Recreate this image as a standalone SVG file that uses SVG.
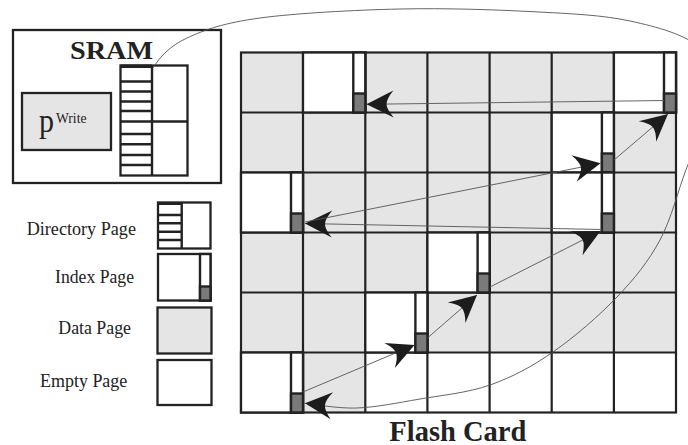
<svg xmlns="http://www.w3.org/2000/svg" width="688" height="445" viewBox="0 0 688 445">
<style>
.t{font-family:"Liberation Serif","Times New Roman",serif;fill:#222}
.b{font-weight:bold}
.ln{fill:none;stroke:#222;stroke-width:2.2}
.gf{fill:#e5e5e5}
.wf{fill:#fff}
.box{stroke:#222;stroke-width:2.3}
.strip{fill:#fff;stroke:#222;stroke-width:2.4}
.dk{fill:#7a7a7a;stroke:#222;stroke-width:2.4}
.bar{stroke:#222;stroke-width:2.4}
.con{fill:none;stroke:#555;stroke-width:0.9}
</style>
<defs>
<marker id="ah" viewBox="-32 -18 34 36" refX="0" refY="0" markerWidth="34" markerHeight="36" orient="auto" markerUnits="userSpaceOnUse" overflow="visible">
<path d="M0,0 L-27,-13.5 Q-20,-5 -20,0 Q-20,5 -27,13.5 Z" fill="#1c1c1c"/>
</marker>
</defs>
<rect width="688" height="445" fill="#fff"/>

<g id="sram">
<rect x="13" y="30" width="208" height="153" fill="#fff" class="box"/>
<text class="t b" x="70" y="59.3" font-size="25" textLength="83" lengthAdjust="spacingAndGlyphs">SRAM</text>
</g>
<g id="p-write">
<rect x="22" y="93" width="89" height="57" class="gf box"/>
<text class="t" x="39" y="132" font-size="34" textLength="15" lengthAdjust="spacingAndGlyphs">p</text>
<text class="t" x="56" y="123.3" font-size="15" textLength="30.5" lengthAdjust="spacingAndGlyphs">Write</text>
</g>
<g id="sram-directory">
<rect x="120.5" y="65.5" width="67" height="110" class="wf box"/>
<line x1="152" y1="65.5" x2="152" y2="175.5" class="bar"/>
<line x1="120.5" y1="121.5" x2="187.5" y2="121.5" class="bar" stroke-width="3"/>
<rect x="120.5" y="64.5" width="31.5" height="3.5" fill="#222"/>
<path d="M120.5,81.5H152M120.5,91.5H152M120.5,101.5H152M120.5,111H152M120.5,134H152M120.5,144.3H152M120.5,155H152M120.5,165H152" class="bar"/>
</g>

<g id="legend-directory">
<text class="t" x="26.7" y="235" font-size="18.5" textLength="109.3" lengthAdjust="spacingAndGlyphs">Directory Page</text>
<rect x="158" y="202.5" width="52.5" height="46" class="wf box"/>
<rect x="158" y="202" width="23.7" height="3" fill="#222"/>
<line x1="181.7" y1="202.5" x2="181.7" y2="248.5" class="bar"/>
<path d="M158,215H181.7M158,223.3H181.7M158,231.7H181.7M158,240H181.7" class="bar"/>
</g>
<g id="legend-index">
<text class="t" x="55" y="282.7" font-size="18.5" textLength="79" lengthAdjust="spacingAndGlyphs">Index Page</text>
<rect x="158" y="254" width="52.5" height="46.5" class="wf box"/>
<rect x="200" y="254" width="10.5" height="46.5" class="strip"/>
<rect x="200" y="286.5" width="10.5" height="14" class="dk"/>
</g>
<g id="legend-data">
<text class="t" x="58.3" y="334" font-size="18.5" textLength="72.7" lengthAdjust="spacingAndGlyphs">Data Page</text>
<rect x="157.5" y="307.5" width="54" height="46" class="gf box"/>
</g>
<g id="legend-empty">
<text class="t" x="40" y="386.7" font-size="18.5" textLength="87.3" lengthAdjust="spacingAndGlyphs">Empty Page</text>
<rect x="157.5" y="360" width="54" height="45" class="wf box"/>
</g>

<g id="flash-card">
<rect x="241" y="52.5" width="435" height="360" class="gf"/>
<rect x="365.3" y="352.5" width="310.7" height="60" class="wf"/>
<path d="M303,52.5V412.5M365.3,52.5V412.5M427.4,52.5V412.5M489.6,52.5V412.5M551.7,52.5V412.5M613.9,52.5V412.5M241,112.5H676M241,172.5H676M241,232.5H676M241,292.5H676M241,352.5H676" class="ln"/>
<rect x="241" y="52.5" width="435" height="360" class="ln" stroke-width="2.6"/>
<text class="t b" x="389.3" y="440.5" font-size="29.5" textLength="137" lengthAdjust="spacingAndGlyphs">Flash Card</text>
</g>

<g id="index-r0c1"><rect x="303" y="52.5" width="62.3" height="60" class="wf box"/><rect x="353.3" y="52.5" width="12" height="60" class="strip"/><rect x="353.3" y="93.5" width="12" height="19" class="dk"/></g>
<g id="index-r0c6"><rect x="613.9" y="52.5" width="62.1" height="60" class="wf box"/><rect x="664" y="52.5" width="12" height="60" class="strip"/><rect x="664" y="93.5" width="12" height="19" class="dk"/></g>
<g id="index-r1c5"><rect x="551.7" y="112.5" width="62.2" height="60" class="wf box"/><rect x="601.9" y="112.5" width="12" height="60" class="strip"/><rect x="601.9" y="153.5" width="12" height="19" class="dk"/></g>
<g id="index-r2c0"><rect x="241" y="172.5" width="62" height="60" class="wf box"/><rect x="291" y="172.5" width="12" height="60" class="strip"/><rect x="291" y="213.5" width="12" height="19" class="dk"/></g>
<g id="index-r2c5"><rect x="551.7" y="172.5" width="62.2" height="60" class="wf box"/><rect x="601.9" y="172.5" width="12" height="60" class="strip"/><rect x="601.9" y="213.5" width="12" height="19" class="dk"/></g>
<g id="index-r3c3"><rect x="427.4" y="232.5" width="62.2" height="60" class="wf box"/><rect x="477.6" y="232.5" width="12" height="60" class="strip"/><rect x="477.6" y="273.5" width="12" height="19" class="dk"/></g>
<g id="index-r4c2"><rect x="365.3" y="292.5" width="62.1" height="60" class="wf box"/><rect x="415.4" y="292.5" width="12" height="60" class="strip"/><rect x="415.4" y="333.5" width="12" height="19" class="dk"/></g>
<g id="index-r5c0"><rect x="241" y="352.5" width="62" height="60" class="wf box"/><rect x="291" y="352.5" width="12" height="60" class="strip"/><rect x="291" y="393.5" width="12" height="19" class="dk"/></g>

<g id="connectors">
<path class="con" marker-end="url(#ah)" d="M153,68 C160,57 169.2,46.3 187,38 C204.8,29.7 224.5,22.8 260,18 C295.5,13.2 354.5,10 400,9 C445.5,8 494.7,9.7 533,11.7 C571.3,13.7 602.2,15 630,21 C657.8,27 686,34.8 700,48 C714,61.2 716.2,80.2 714,100 C711.8,119.8 696,143.7 687,167 C678,190.3 671.7,218.3 660,240 C648.3,261.7 634.8,278.3 617,297 C599.2,315.7 574.2,337.3 553,352 C531.8,366.7 512.2,377.2 490,385 C467.8,392.8 442.2,395.2 420,399 C397.8,402.8 376.2,407.3 357,408 C337.8,408.7 313.7,404.1 305,403.3"/>
<path class="con" marker-end="url(#ah)" d="M303,392 L414.5,345"/>
<path class="con" marker-end="url(#ah)" d="M427.4,338 L477,295"/>
<path class="con" marker-end="url(#ah)" d="M490,287 L600.5,231"/>
<path class="con" marker-end="url(#ah)" d="M601.9,229.5 L305,223.5"/>
<path class="con" marker-end="url(#ah)" d="M305,222 L600.5,163.3"/>
<path class="con" marker-end="url(#ah)" d="M614,160 L668,114"/>
<path class="con" marker-end="url(#ah)" d="M664,100.5 L366.5,104.3"/>
</g>
</svg>
